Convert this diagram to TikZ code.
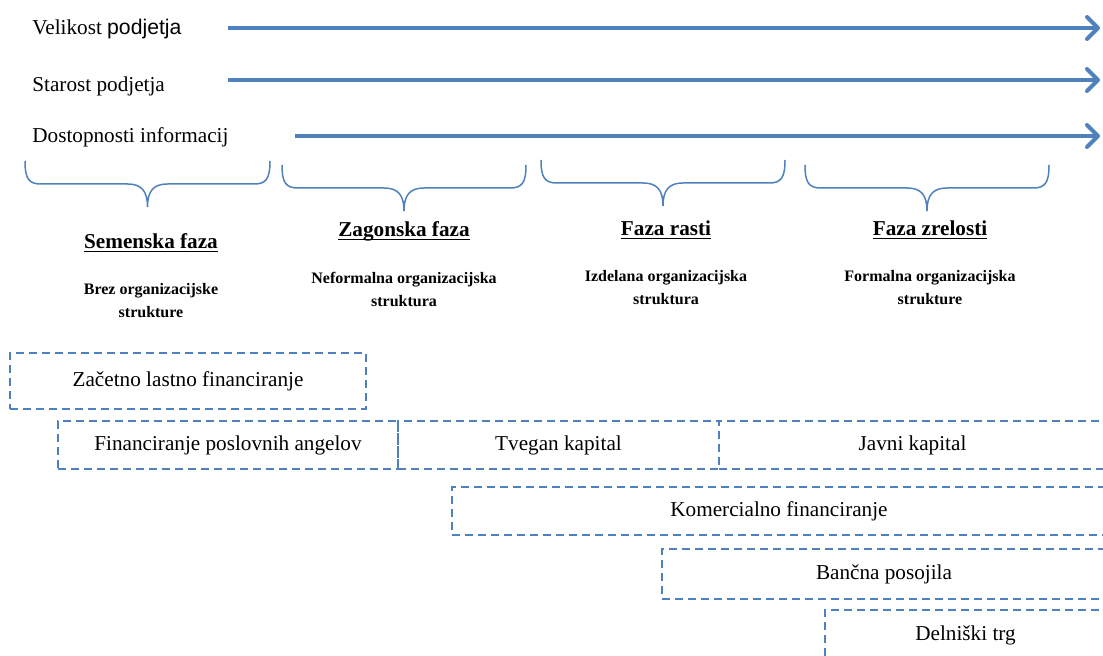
\documentclass[tikz,border=0pt]{standalone}
\usepackage{fontspec}
\setmainfont{Liberation Serif}
\setsansfont{Liberation Sans}
\usetikzlibrary{positioning,arrows.meta}
\definecolor{stageblue}{HTML}{4F81BD}
\newcommand\phaseul[1]{\setbox0\hbox{#1}\rlap{\rule[-2pt]{\wd0}{0.8pt}}\box0}
\tikzset{
  my label/.style={anchor=west,inner sep=0pt},
  my arrow/.style={
    stageblue,
    line width=2pt,
    -{Straight Barb[length=5.5pt,width=11pt,round]}
  },
  my brace/.style={stageblue,line width=0.75pt},
  my phase/.style={font=\bfseries,inner sep=0pt},
  my note/.style={
    font=\fontsize{8}{11.5}\selectfont\bfseries,
    align=center,
    inner sep=0pt
  },
  my source/.style={
    draw=stageblue,
    line width=1pt,
    dash pattern=on 4pt off 2.5pt,
    inner sep=0pt,
    outer sep=0pt,
    minimum height=24pt
  }
}

\begin{document}
\begin{tikzpicture}[x=0.5pt,y=-0.5pt]
\fontsize{10.6}{13}\selectfont
\useasboundingbox (0,0) rectangle (1103,656);
\clip (0,0) rectangle (1103,656);
% time axes
\node[my label] (size) at (32,29)  {Velikost {\sffamily podjetja}};
\node[my label] (age)  at (32,86)  {Starost podjetja};
\node[my label] (info) at (32,137) {Dostopnosti informacij};
\coordinate (size start) at (228,28);  \coordinate (size end) at (1100,28);
\coordinate (age start)  at (228,80);  \coordinate (age end)  at (1100,80);
\coordinate (info start) at (295,136); \coordinate (info end) at (1100,136);
\draw[my arrow] (size start) -- (size end);
\draw[my arrow] (age start)  -- (age end);
\draw[my arrow] (info start) -- (info end);
% braces
\foreach \l/\r/\t in {25/270/161, 282/526/165, 541/785/160, 805/1049/165}{
  \pgfmathsetmacro\m{(\l+\r)/2}
  \draw[my brace] (\l,\t) .. controls (\l,\t+18) and (\l+4,\t+23) .. (\l+16,\t+23)
    -- (\m-20,\t+23) .. controls (\m-6,\t+23) and (\m,\t+30) .. (\m,\t+46)
    .. controls (\m,\t+30) and (\m+6,\t+23) .. (\m+20,\t+23)
    -- (\r-16,\t+23) .. controls (\r-4,\t+23) and (\r,\t+18) .. (\r,\t);
}
% phases
\node[my phase] (seed)    at (151,243) {\phaseul{Semenska faza}};
\node[my phase] (startup) at (404,231) {\phaseul{Zagonska faza}};
\node[my phase] (growth)  at (666,230) {\phaseul{Faza rasti}};
\node[my phase] (mature)  at (930,230) {\phaseul{Faza zrelosti}};
\node[my note,on grid,below=29pt of seed]    (seed note)    {Brez organizacijske\\strukture};
\node[my note,on grid,below=29pt of startup] (startup note) {Neformalna organizacijska\\struktura};
\node[my note,on grid,below=29pt of growth]  (growth note)  {Izdelana organizacijska\\struktura};
\node[my note,on grid,below=29pt of mature]  (mature note)  {Formalna organizacijska\\strukture};
% sources of financing
\node[my source,minimum width=178pt,minimum height=28pt] (own) at (188,381) {Začetno lastno financiranje};
\node[my source,minimum width=170pt] (angels) at (228,445) {Financiranje poslovnih angelov};
\node[my source,minimum width=160.5pt,right=0pt of angels] (venture) {Tvegan kapital};
\node[my source,minimum width=193.5pt,right=0pt of venture] (public) {Javni kapital};
\node[my source,minimum width=327pt] (trade) at (779,511) {Komercialno financiranje};
\node[my source,minimum width=222pt,minimum height=25pt] (bank) at (884,574) {Bančna posojila};
\node[my source,minimum width=140.5pt,minimum height=25pt] (stock) at (965.5,635) {Delniški trg};
\end{tikzpicture}
\end{document}
